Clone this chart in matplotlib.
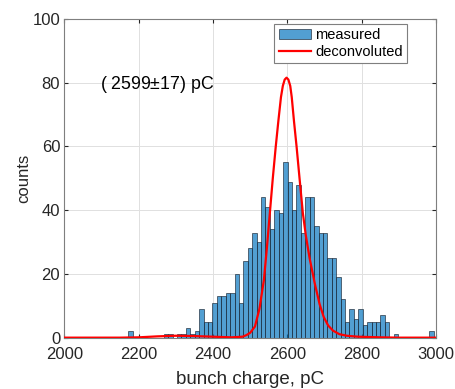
import numpy as np
import matplotlib
matplotlib.use("Agg")
import matplotlib.pyplot as plt

plt.rcParams['font.family'] = ['Liberation Sans', 'DejaVu Sans']
plt.rcParams['mathtext.fontset'] = 'custom'
plt.rcParams['mathtext.rm'] = 'Liberation Sans'

# Histogram: bin layout and counts
bin_start = 2172.4
bin_width = 11.9
counts = [2, 0, 0, 0, 0, 0, 0, 0, 1, 1,
          0, 1, 1, 3, 1, 2, 9, 5, 5, 11,
          13, 13, 14, 14, 20, 11, 24, 28, 33, 30,
          44, 41, 34, 40, 39, 55, 49, 40, 48, 33,
          44, 44, 35, 33, 33, 25, 25, 19, 12, 5,
          9, 6, 9, 4, 5, 5, 5, 7, 5, 0,
          1, 0, 0, 0, 0, 0, 0, 0, 2]

# Deconvoluted curve
curve_x = [2000, 2150, 2200, 2250, 2300, 2350, 2400, 2450, 2480, 2490,
           2500, 2513, 2525, 2537, 2545, 2553, 2561, 2569, 2576, 2583,
           2588, 2593, 2598, 2603, 2608, 2612, 2618, 2625, 2633, 2642,
           2650, 2660, 2674, 2687, 2698, 2710, 2723, 2740, 2760, 2790,
           2850, 2900, 3000]
curve_y = [0, 0, 0.1, 0.4, 0.6, 0.5, 0.3, 0.1, 0.3, 0.8,
           1.5, 3.5, 9, 18, 28, 39, 50, 60, 68, 75.5,
           79, 81, 81.6, 81, 79, 75.5, 68, 60, 50, 39,
           32, 25, 17, 10.5, 6.5, 3.8, 2.2, 1.1, 0.6, 0.3,
           0.1, 0, 0]

annotation = r"( 2599$\pm$17) pC"
x_ticks = [2000, 2200, 2400, 2600, 2800, 3000]
y_ticks = [0, 20, 40, 60, 80, 100]

edges = bin_start + bin_width * np.arange(len(counts) + 1)
centers = (edges[:-1] + edges[1:]) / 2

fig = plt.figure(figsize=(4.56, 3.89), dpi=100)
ax = fig.add_axes([0.141, 0.132, 0.815, 0.819])

ax.hist(centers, bins=edges, weights=counts, facecolor=(0, 0.447, 0.741, 0.68),
        edgecolor=(0.1, 0.15, 0.2, 0.75), linewidth=0.6, label='measured', zorder=2)
ax.plot(curve_x, curve_y, color='red', linewidth=1.6, label='deconvoluted', zorder=3)

ax.set_xlim(2000, 3000)
ax.set_ylim(0, 100)
ax.set_xticks(x_ticks)
ax.set_yticks(y_ticks)
ax.grid(True, color='#e0e0e0', linewidth=0.7, zorder=0)
ax.set_axisbelow(True)
ax.tick_params(direction='in', length=3, labelsize=12, colors='#262626',
               top=True, right=True)
ax.tick_params(axis='x', pad=7)
ax.tick_params(axis='y', pad=3)
for s in ax.spines.values():
    s.set_color('#7f7f7f')
    s.set_linewidth(0.8)

ax.set_xlabel('bunch charge, pC', fontsize=13.5, color='#262626', labelpad=6)
ax.set_ylabel('counts', fontsize=12, color='#262626', labelpad=1)

ax.text(2096, 79.6, annotation, fontsize=12.8, va='center', ha='left', color='black')

leg = ax.legend(loc='upper right', bbox_to_anchor=(0.93, 0.995), fontsize=10.5,
                frameon=True, fancybox=False, edgecolor='#7f7f7f', framealpha=1,
                handlelength=2.2, handletextpad=0.3, borderpad=0.3, labelspacing=0.2,
                borderaxespad=0.2)
leg.get_frame().set_linewidth(0.8)

fig.savefig('out.png', dpi=100)
